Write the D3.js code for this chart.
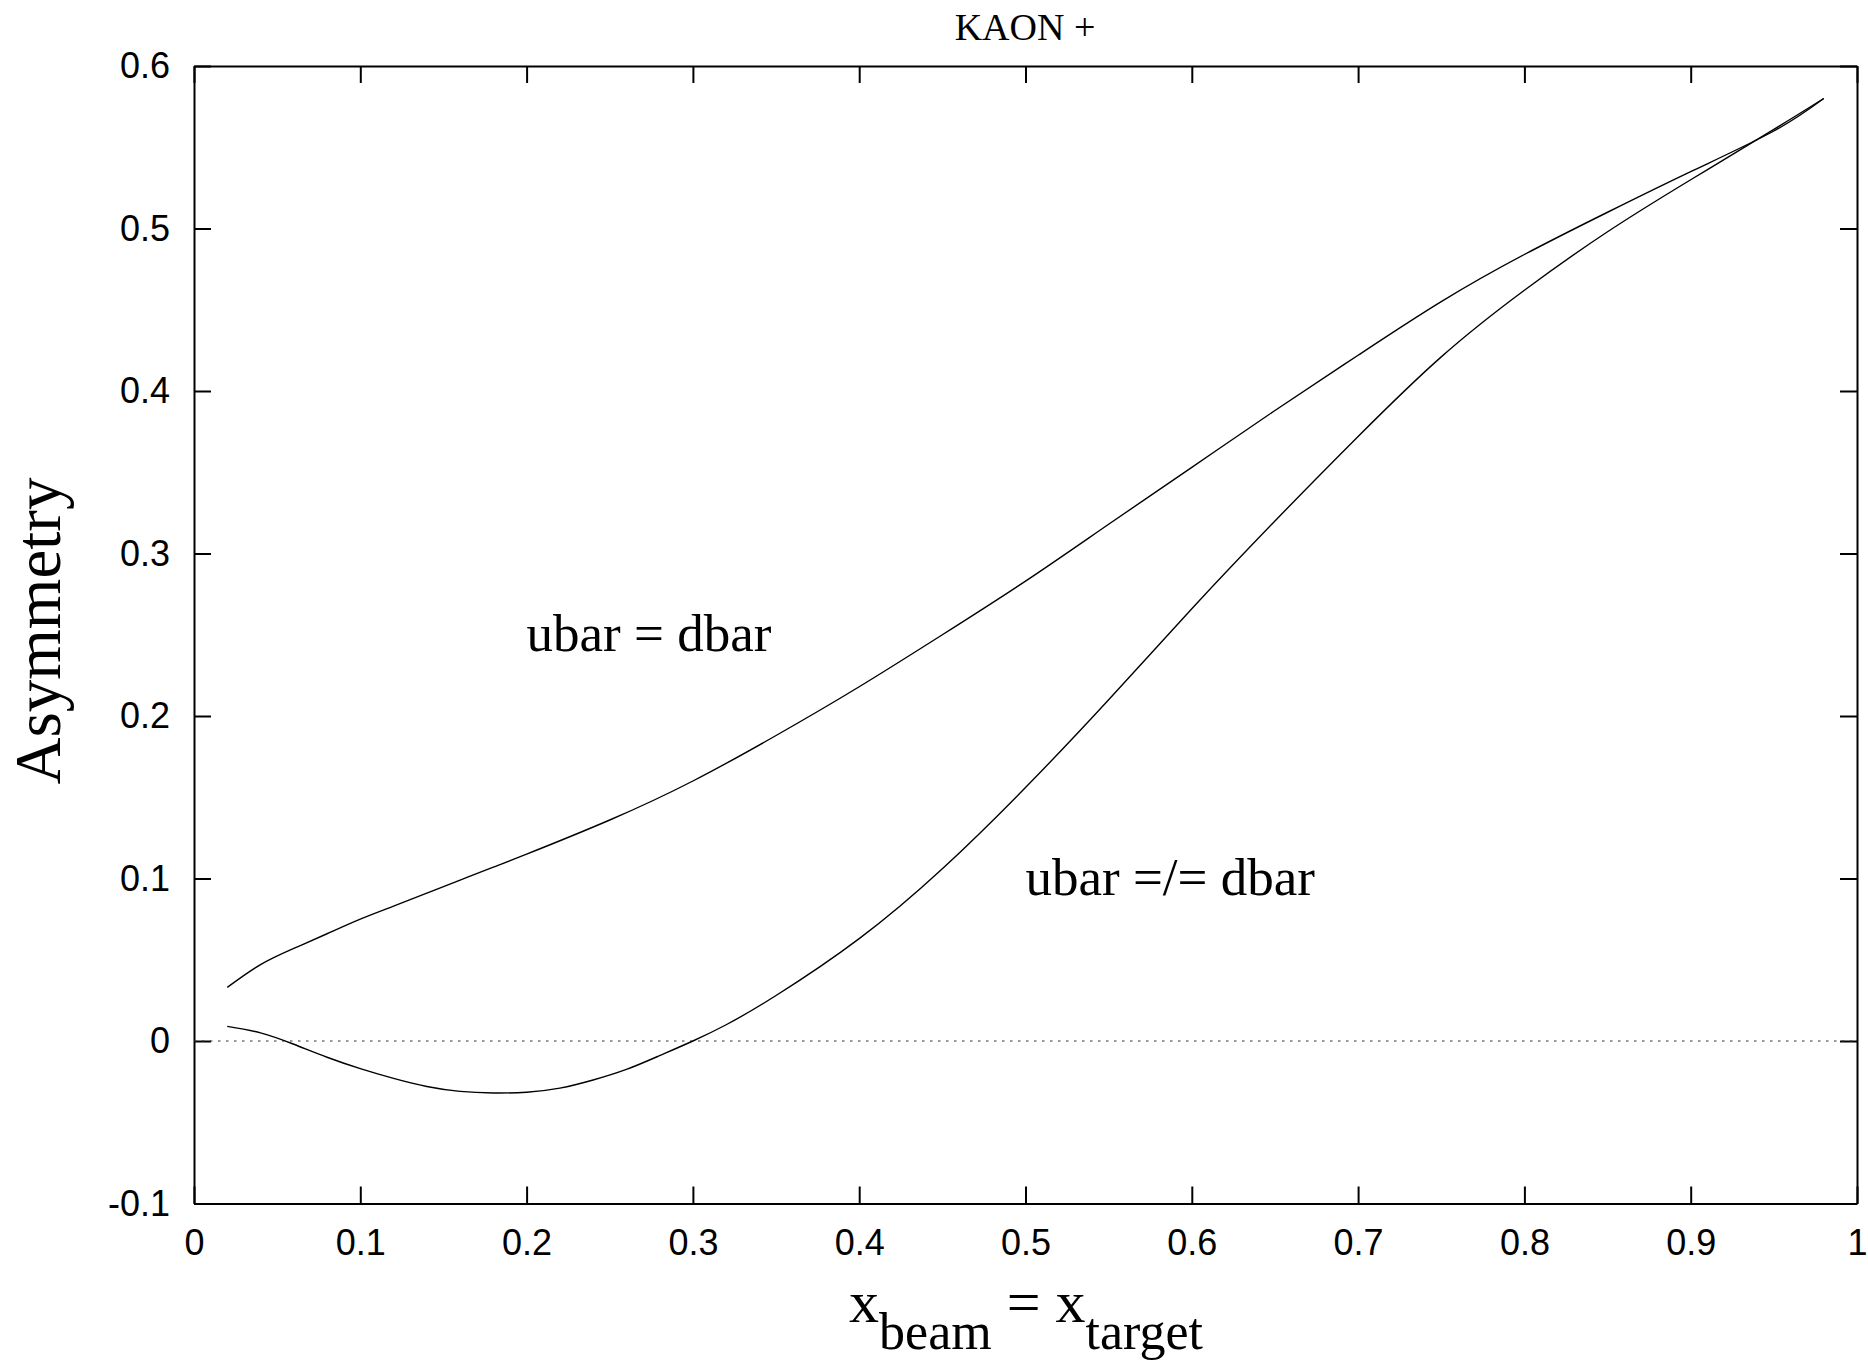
<!DOCTYPE html>
<html>
<head>
<meta charset="utf-8">
<script src="https://cdn.jsdelivr.net/npm/d3@7"></script>
<style>
    body { margin: 0; background: white; }
    svg { display: block; }
</style>
</head>
<body>
<div id="chart"></div>
<script>
// values
const xEqual = [0.02, 0.04, 0.06, 0.08, 0.10, 0.12, 0.14, 0.16, 0.18, 0.20, 0.25, 0.30, 0.35, 0.40, 0.45, 0.50, 0.55, 0.60, 0.65, 0.70, 0.75, 0.80, 0.85, 0.90, 0.95, 0.98];
const asymEqual = [0.033, 0.047, 0.057, 0.066, 0.075, 0.083, 0.091, 0.099, 0.107, 0.115, 0.136, 0.160, 0.188, 0.218, 0.250, 0.283, 0.318, 0.353, 0.388, 0.422, 0.455, 0.484, 0.510, 0.535, 0.560, 0.580];

const xDiff = [0.02, 0.04, 0.06, 0.08, 0.10, 0.12, 0.14, 0.16, 0.18, 0.20, 0.22, 0.24, 0.26, 0.28, 0.30, 0.32, 0.35, 0.40, 0.45, 0.50, 0.55, 0.60, 0.65, 0.70, 0.75, 0.80, 0.85, 0.90, 0.95, 0.98];
const asymDiff = [0.009, 0.005, -0.002, -0.010, -0.017, -0.023, -0.028, -0.031, -0.032, -0.0315, -0.029, -0.024, -0.0175, -0.009, 0.000, 0.010, 0.028, 0.063, 0.106, 0.156, 0.210, 0.266, 0.320, 0.372, 0.421, 0.462, 0.498, 0.530, 0.561, 0.580];

const xTicks = [0, 0.1, 0.2, 0.3, 0.4, 0.5, 0.6, 0.7, 0.8, 0.9, 1];
const yTicks = [-0.1, 0, 0.1, 0.2, 0.3, 0.4, 0.5, 0.6];

const seriesLabels = ["ubar = dbar", "ubar =/= dbar"];
const labelAt = [[0.2, 0.25], [0.5, 0.1]];
const title = "KAON +";
const yTitle = "Asymmetry";

const width = 1868, height = 1363;
const margin = {left: 194, right: 11, top: 66, bottom: 159.5};

const svg = d3.select("#chart")
    .append("svg")
    .attr("width", width)
    .attr("height", height);

const x = d3.scaleLinear().domain([0, 1]).range([margin.left, width - margin.right]);
const y = d3.scaleLinear().domain([-0.1, 0.6]).range([height - margin.bottom, margin.top]);

const fmt = d => String(+d.toFixed(1));
const tickLen = 17;

// axes, ticks point inward like gnuplot
function styleAxis(g) {
    g.select(".domain").attr("stroke", "black").attr("stroke-width", 2);
    g.selectAll(".tick line").attr("stroke", "black").attr("stroke-width", 2);
    g.selectAll(".tick text")
        .attr("fill", "black")
        .style("font-family", "'Liberation Sans', Arial, sans-serif")
        .style("font-size", "36px");
}

svg.append("g")
    .attr("transform", `translate(0,${y(-0.1)})`)
    .call(d3.axisBottom(x).tickValues(xTicks).tickFormat(fmt).tickSizeInner(-tickLen).tickSizeOuter(0).tickPadding(26))
    .call(styleAxis);

svg.append("g")
    .attr("transform", `translate(${x(0)},0)`)
    .call(d3.axisLeft(y).tickValues(yTicks).tickFormat(fmt).tickSizeInner(-tickLen).tickSizeOuter(0).tickPadding(24))
    .call(styleAxis);

svg.append("g")
    .attr("transform", `translate(0,${y(0.6)})`)
    .call(d3.axisTop(x).tickValues(xTicks).tickFormat("").tickSizeInner(-tickLen).tickSizeOuter(0))
    .call(styleAxis);

svg.append("g")
    .attr("transform", `translate(${x(1)},0)`)
    .call(d3.axisRight(y).tickValues(yTicks).tickFormat("").tickSizeInner(-tickLen).tickSizeOuter(0))
    .call(styleAxis);

// dotted zero line
svg.append("line")
    .attr("x1", x(0)).attr("x2", x(1))
    .attr("y1", y(0)).attr("y2", y(0))
    .attr("stroke", "#333")
    .attr("stroke-width", 1)
    .attr("stroke-dasharray", "2.5,5.5");

// the two curves
const line = d3.line()
    .x(d => x(d[0]))
    .y(d => y(d[1]))
    .curve(d3.curveNatural);

[[xEqual, asymEqual], [xDiff, asymDiff]].forEach(s => {
    svg.append("path")
        .datum(d3.zip(s[0], s[1]))
        .attr("d", line)
        .attr("fill", "none")
        .attr("stroke", "black")
        .attr("stroke-width", 1.4);
});

// curve labels
const serif = "'Liberation Serif', 'Times New Roman', serif";
seriesLabels.forEach((t, i) => {
    svg.append("text")
        .attr("x", x(labelAt[i][0]))
        .attr("y", y(labelAt[i][1]) + 16)
        .style("font-family", serif)
        .style("font-size", "53px")
        .text(t);
});

// titles
svg.append("text")
    .attr("x", 1025)
    .attr("y", 40)
    .attr("text-anchor", "middle")
    .style("font-family", serif)
    .style("font-size", "38px")
    .text(title);

svg.append("text")
    .attr("transform", "translate(60,631) rotate(-90)")
    .attr("text-anchor", "middle")
    .style("font-family", serif)
    .style("font-size", "65px")
    .text(yTitle);

const xl = svg.append("text")
    .attr("x", 1026)
    .attr("y", 1322)
    .attr("text-anchor", "middle")
    .style("font-family", serif)
    .style("font-size", "60px");
xl.append("tspan").text("x");
xl.append("tspan").attr("dy", 27).style("font-size", "52px").text("beam");
xl.append("tspan").attr("dy", -27).text(" = x");
xl.append("tspan").attr("dy", 27).style("font-size", "52px").text("target");
</script>
</body>
</html>
